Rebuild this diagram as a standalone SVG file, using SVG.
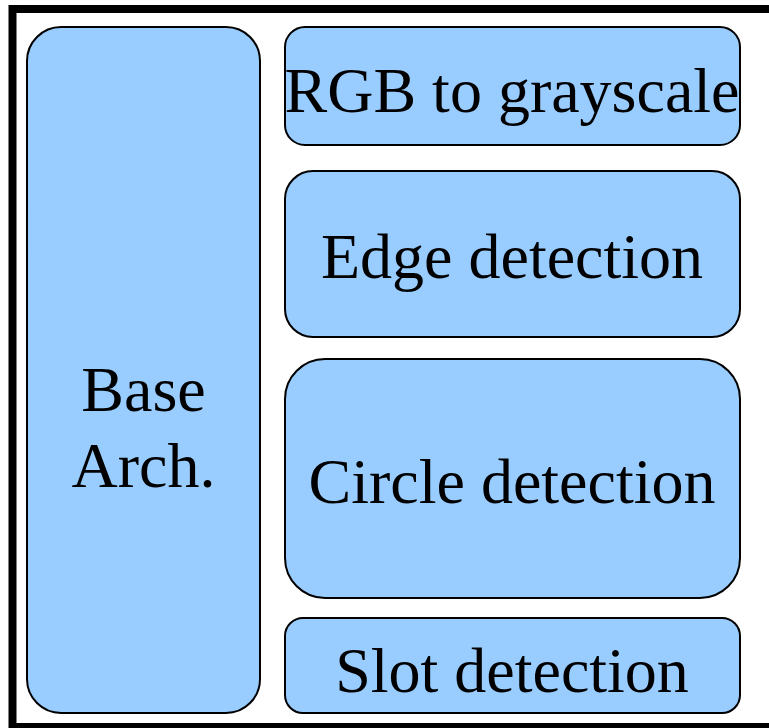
<svg xmlns="http://www.w3.org/2000/svg" width="769" height="728" viewBox="0 0 769 728">
  <style>
    .blk { fill: #99ccff; stroke: #000; stroke-width: 2; }
    .lbl { font-family: "Liberation Serif", "Times New Roman", serif; font-size: 64px; fill: #000; text-anchor: middle; }
  </style>
  <rect x="0" y="0" width="769" height="728" fill="#fff"/>
  <!-- outer frame -->
  <rect x="12.5" y="9" width="800" height="718" fill="#fff" stroke="#000" stroke-width="8"/>

  <g id="base-arch">
    <rect class="blk" x="27" y="27" width="233" height="686" rx="34" ry="34"/>
    <text class="lbl" x="143.5" y="411">Base</text>
    <text class="lbl" x="143.5" y="487">Arch.</text>
  </g>
  <g id="rgb-to-grayscale">
    <rect class="blk" x="285" y="27" width="455" height="118" rx="20" ry="20"/>
    <text class="lbl" x="512" y="112">RGB to grayscale</text>
  </g>
  <g id="edge-detection">
    <rect class="blk" x="285" y="171" width="455" height="166" rx="28" ry="28"/>
    <text class="lbl" x="512" y="278">Edge detection</text>
  </g>
  <g id="circle-detection">
    <rect class="blk" x="285" y="359" width="455" height="239" rx="40" ry="40"/>
    <text class="lbl" x="512" y="503">Circle detection</text>
  </g>
  <g id="slot-detection">
    <rect class="blk" x="285" y="618" width="455" height="95" rx="18" ry="18"/>
    <text class="lbl" x="512" y="692">Slot detection</text>
  </g>
  <g id="connectors"/>
</svg>
